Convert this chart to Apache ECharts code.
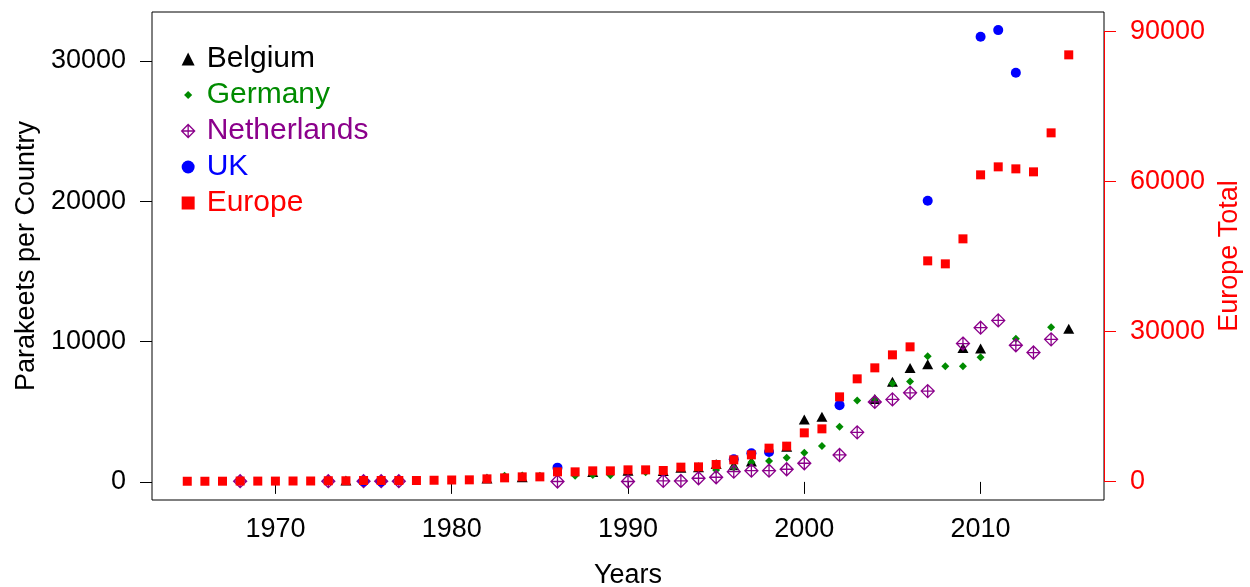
<!DOCTYPE html>
<html>
<head>
<meta charset="utf-8">
<script src="https://cdn.jsdelivr.net/npm/echarts@6/dist/echarts.min.js"></script>
<style>
html,body{margin:0;padding:0;background:#fff;}
#chart{width:1250px;height:587px;}
</style>
</head>
<body>
<div id="chart"></div>
<script>
// ---- Data ----
const belgiumYears  = [1974, 1982, 1984, 1988, 1990, 1992, 1993, 1994, 1995, 1996, 1997, 1999, 2000, 2001, 2004, 2005, 2006, 2007, 2009, 2010, 2015];
const belgiumValues = [100, 235, 330, 700, 800, 780, 1000, 1050, 1280, 1190, 1450, 2500, 4450, 4640, 5900, 7130, 8120, 8390, 9540, 9500, 10920];

const germanyYears  = [1983, 1984, 1985, 1987, 1988, 1989, 1991, 1995, 1996, 1997, 1998, 1999, 2000, 2001, 2002, 2003, 2004, 2005, 2006, 2007, 2008, 2009, 2010, 2012, 2014];
const germanyValues = [430, 450, 430, 430, 500, 470, 690, 850, 1020, 1400, 1490, 1730, 2080, 2560, 3930, 5800, 5900, 7010, 7160, 8960, 8240, 8240, 8880, 10210, 11020];

const netherlandsYears  = [1968, 1973, 1975, 1976, 1977, 1986, 1990, 1992, 1993, 1994, 1995, 1996, 1997, 1998, 1999, 2000, 2002, 2003, 2004, 2005, 2006, 2007, 2009, 2010, 2011, 2012, 2013, 2014];
const netherlandsValues = [50, 50, 50, 50, 50, 30, 30, 70, 70, 260, 330, 730, 800, 800, 900, 1330, 1920, 3530, 5700, 5880, 6350, 6470, 9860, 10990, 11510, 9740, 9220, 10160];

const ukYears  = [1975, 1976, 1986, 1996, 1997, 1998, 2002, 2007, 2010, 2011, 2012];
const ukValues = [30, 30, 1016, 1610, 2040, 2130, 5470, 20040, 31720, 32200, 29160];

const europeYears  = [1965, 1966, 1967, 1968, 1969, 1970, 1971, 1972, 1973, 1974, 1975, 1976, 1977, 1978, 1979, 1980,
                      1981, 1982, 1983, 1984, 1985, 1986, 1987, 1988, 1989, 1990, 1991, 1992, 1993, 1994, 1995, 1996, 1997, 1998, 1999,
                      2000, 2001, 2002, 2003, 2004, 2005, 2006, 2007, 2008, 2009, 2010, 2011, 2012, 2013, 2014, 2015];
const europeValues = [50, 50, 60, 100, 80, 80, 100, 100, 150, 150, 200, 200, 200, 200, 250, 300,
                      330, 530, 730, 930, 930, 1930, 1930, 2130, 2130, 2330, 2330, 2200, 2870, 2930, 3400, 4330, 5330, 6670, 7070,
                      9730, 10530, 16930, 20530, 22730, 25330, 26930, 44130, 43530, 48530, 61330, 62930, 62530, 61930, 69730, 85330];

const xTicks = [1970, 1980, 1990, 2000, 2010];
const leftTicks = [0, 10000, 20000, 30000];
const rightTicks = [0, 30000, 60000, 90000];

const xMin = 1963, xMax = 2017;
const leftMin = -1290, leftMax = 33490;
const rightMin = -3700, rightMax = 93900;

function pairs(xs, ys) { return xs.map((x, i) => [x, ys[i]]); }
const plain = v => String(v);

const FONT = 'Liberation Sans, Arial, Helvetica, sans-serif';
const C_BEL = '#000000', C_GER = '#008B00', C_NL = '#8B008B', C_UK = '#0000FF', C_EU = '#FF0000';
const nlPath = 'path://M0,-10L10,0L0,10L-10,0Z M0,-10L0,10 M-10,0L10,0';
const gerLegend = 'path://M-8,-8M8,8M0,-5L5,0L0,5L-5,0Z';

const chart = echarts.init(document.getElementById('chart'), null, {renderer: 'canvas'});
chart.setOption({
  animation: false,
  backgroundColor: '#ffffff',
  textStyle: {fontFamily: FONT},
  grid: {left: 152, right: 146, top: 12, bottom: 87, show: true, borderColor: '#000', borderWidth: 1,
         backgroundColor: 'transparent', containLabel: false, outerBoundsMode: 'none'},
  legend: {
    orient: 'vertical', left: 176, top: 39, itemWidth: 13, itemHeight: 13, itemGap: 6,
    textStyle: {fontSize: 30, fontFamily: FONT, padding: [0, 0, 0, 7]},
    selectedMode: false,
    data: [
      {name: 'Belgium', icon: 'triangle', textStyle: {color: C_BEL}},
      {name: 'Germany', icon: gerLegend, textStyle: {color: C_GER}},
      {name: 'Netherlands', icon: nlPath, itemStyle: {color: 'transparent', borderColor: C_NL, borderWidth: 1.3}, textStyle: {color: C_NL}},
      {name: 'UK', icon: 'circle', textStyle: {color: C_UK}},
      {name: 'Europe', icon: 'rect', textStyle: {color: C_EU}}
    ]
  },
  xAxis: {
    type: 'value', min: xMin, max: xMax,
    name: 'Years', nameLocation: 'middle', nameGap: 62,
    nameTextStyle: {fontSize: 27, color: '#000', fontFamily: FONT},
    axisLine: {show: false},
    axisTick: {show: true, length: 12, customValues: xTicks, lineStyle: {color: '#000', width: 1}},
    axisLabel: {customValues: xTicks, formatter: plain, fontSize: 27, color: '#000', margin: 16, fontFamily: FONT},
    splitLine: {show: false}
  },
  yAxis: [
    {
      type: 'value', min: leftMin, max: leftMax, position: 'left',
      name: 'Parakeets per Country', nameLocation: 'middle', nameGap: 101, nameRotate: 90,
      nameTextStyle: {fontSize: 27, color: '#000', fontFamily: FONT},
      axisLine: {show: false},
      axisTick: {show: true, length: 12, customValues: leftTicks, lineStyle: {color: '#000', width: 1}},
      axisLabel: {customValues: leftTicks, formatter: plain, fontSize: 27, color: '#000', margin: 26, fontFamily: FONT},
      splitLine: {show: false}
    },
    {
      type: 'value', min: rightMin, max: rightMax, position: 'right',
      name: 'Europe Total', nameLocation: 'middle', nameGap: 110, nameRotate: 90,
      nameTextStyle: {fontSize: 27, color: C_EU, fontFamily: FONT},
      axisLine: {show: false},
      axisTick: {show: true, length: 12, customValues: rightTicks, lineStyle: {color: C_EU, width: 1}},
      axisLabel: {customValues: rightTicks, formatter: plain, fontSize: 27, color: C_EU, margin: 26, fontFamily: FONT},
      splitLine: {show: false}
    }
  ],
  series: [
    {name: 'Belgium', type: 'scatter', yAxisIndex: 0, symbol: 'triangle', symbolSize: [11, 10],
     itemStyle: {color: C_BEL, opacity: 1}, data: pairs(belgiumYears, belgiumValues)},
    {name: 'Germany', type: 'scatter', yAxisIndex: 0, symbol: 'diamond', symbolSize: 8,
     itemStyle: {color: C_GER, opacity: 1}, data: pairs(germanyYears, germanyValues)},
    {name: 'Netherlands', type: 'scatter', yAxisIndex: 0, symbol: nlPath, symbolSize: 13,
     itemStyle: {color: 'transparent', borderColor: C_NL, borderWidth: 1.3, opacity: 1}, data: pairs(netherlandsYears, netherlandsValues)},
    {name: 'UK', type: 'scatter', yAxisIndex: 0, symbol: 'circle', symbolSize: 10,
     itemStyle: {color: C_UK, opacity: 1}, data: pairs(ukYears, ukValues)},
    {name: 'Europe', type: 'scatter', yAxisIndex: 1, symbol: 'rect', symbolSize: 9,
     itemStyle: {color: C_EU, opacity: 1}, data: pairs(europeYears, europeValues),
     markLine: {silent: true, symbol: ['none', 'none'], label: {show: false},
       lineStyle: {color: C_EU, width: 1, type: 'solid'},
       data: [[{coord: [xMax, rightTicks[0]]}, {coord: [xMax, rightTicks[rightTicks.length - 1]]}]]}}
  ]
});
</script>
</body>
</html>
